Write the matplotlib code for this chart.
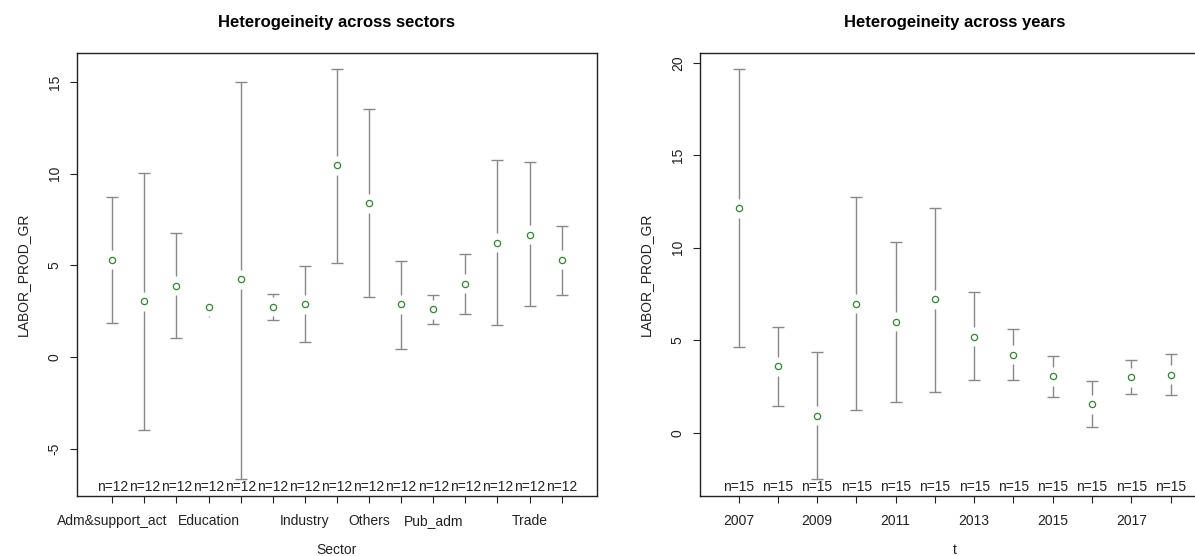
import matplotlib.pyplot as plt

plt.rcParams['font.family'] = ['Liberation Sans', 'DejaVu Sans']

# group means with 95% confidence limits (gplots-style plotmeans)
sector_labels = ["Adm&support_act", "", "", "Education", "", "", "Industry", "",
                 "Others", "", "Pub_adm", "", "", "Trade", ""]
sector_mean = [5.30, 3.04, 3.90, 2.73, 4.24, 2.73, 2.87, 10.47, 8.39, 2.87, 2.60, 3.99, 6.23, 6.68, 5.30]
sector_lower = [1.87, -3.97, 1.02, 2.16, -6.67, 2.02, 0.80, 5.14, 3.28, 0.44, 1.80, 2.33, 1.75, 2.79, 3.40]
sector_upper = [8.74, 10.05, 6.78, 3.30, 15.03, 3.44, 4.95, 15.70, 13.51, 5.22, 3.40, 5.64, 10.77, 10.64, 7.17]
sector_n = [12, 12, 12, 12, 12, 12, 12, 12, 12, 12, 12, 12, 12, 12, 12]

year_labels = ["2007", "", "2009", "", "2011", "", "2013", "", "2015", "", "2017", ""]
year_mean = [12.14, 3.59, 0.92, 6.98, 5.99, 7.20, 5.19, 4.20, 3.05, 1.53, 3.01, 3.14]
year_lower = [4.62, 1.46, -2.51, 1.23, 1.68, 2.22, 2.85, 2.85, 1.91, 0.31, 2.09, 2.04]
year_upper = [19.64, 5.72, 4.37, 12.75, 10.32, 12.14, 7.59, 5.61, 4.17, 2.80, 3.95, 4.24]
year_n = [15, 15, 15, 15, 15, 15, 15, 15, 15, 15, 15, 15]

bar_col = '#888888'
pt_col = '#2e8b2e'
gap_px = 9.5


def plot_means(ax, labels, mean, lower, upper, n, title, xlabel, yticks):
    k = len(mean)
    x = list(range(1, k + 1))
    lo, hi = min(lower), max(upper)
    ax.set_ylim(lo - 0.04 * (hi - lo), hi + 0.04 * (hi - lo))
    ax.set_xlim(0.5 - 0.04 * k, k + 0.5 + 0.04 * k)

    # pixels per data unit, to leave a fixed gap around each point
    p0 = ax.transData.transform((0, 0))
    p1 = ax.transData.transform((0, 1))
    ppu = p1[1] - p0[1]
    gap = gap_px / ppu

    for xi, m, l, u in zip(x, mean, lower, upper):
        if u > m + gap:
            ax.vlines(xi, m + gap, u, color=bar_col, lw=1)
            if (u - m - gap) * ppu > 2:
                ax.plot([xi], [u], marker='_', ms=9, mew=1, color=bar_col)
        if l < m - gap:
            ax.vlines(xi, l, m - gap, color=bar_col, lw=1)
            if (m - gap - l) * ppu > 2:
                ax.plot([xi], [l], marker='_', ms=9, mew=1, color=bar_col)
    ax.plot(x, mean, 'o', ms=4.5, mfc='none', mec=pt_col, mew=0.9)

    for xi, ni in zip(x, n):
        ax.text(xi, 0.003, "n=%d" % ni, transform=ax.get_xaxis_transform(),
                ha='center', va='bottom', fontsize=10, color='#222222')

    ax.set_xticks(x)
    ax.set_xticklabels(labels)
    ax.set_yticks(yticks)
    ax.set_yticklabels([str(v) for v in yticks], rotation=90, va='center')
    ax.tick_params(direction='out', length=5, width=0.8, labelsize=10, colors='#222222')
    ax.tick_params(axis='x', pad=8)
    ax.tick_params(axis='y', pad=6)
    for s in ax.spines.values():
        s.set_linewidth(1)
        s.set_color('#222222')
    ax.set_title(title, fontsize=12, fontweight='bold', pad=19)
    ax.set_xlabel(xlabel, fontsize=10, labelpad=11, color='#222222')
    ax.set_ylabel("LABOR_PROD_GR", fontsize=10, labelpad=13, color='#222222')


fig = plt.figure(figsize=(11.95, 5.56), dpi=100)
ax1 = fig.add_axes([0.0644, 0.1088, 0.4351, 0.7959])
ax2 = fig.add_axes([0.5858, 0.1088, 0.426, 0.7959])

plot_means(ax1, sector_labels, sector_mean, sector_lower, sector_upper, sector_n,
           "Heterogeineity across sectors", "Sector", [-5, 0, 5, 10, 15])
plot_means(ax2, year_labels, year_mean, year_lower, year_upper, year_n,
           "Heterogeineity across years", "t", [0, 5, 10, 15, 20])

fig.savefig("out.png", dpi=100)
